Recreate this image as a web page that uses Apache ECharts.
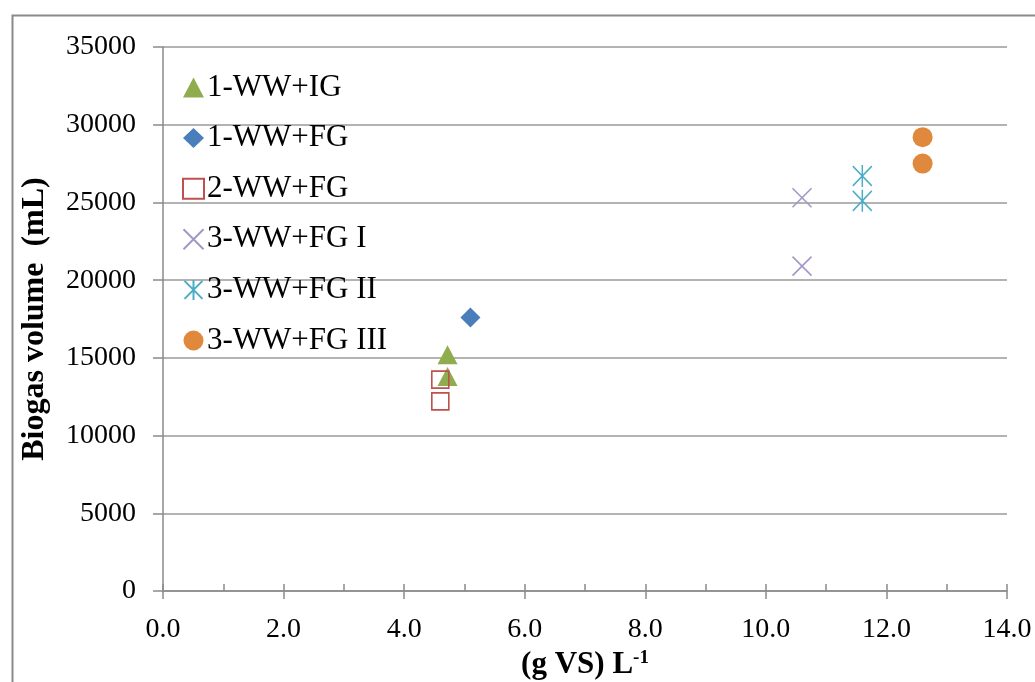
<!DOCTYPE html>
<html>
<head>
<meta charset="utf-8">
<script src="https://cdn.jsdelivr.net/npm/echarts@6/dist/echarts.min.js"></script>
<style>html,body{margin:0;padding:0;background:#fff}#c{width:1035px;height:682px}</style>
</head>
<body>
<div id="c"></div>
<script>
var seriesNames = ['1-WW+IG', '1-WW+FG', '2-WW+FG', '3-WW+FG I', '3-WW+FG II', '3-WW+FG III'];
var ww1IG = [[4.72, 15200], [4.72, 13800]];
var ww1FG = [[5.1, 17600]];
var ww2FG = [[4.6, 13600], [4.6, 12200]];
var ww3FGI = [[10.6, 25300], [10.6, 20900]];
var ww3FGII = [[11.6, 26700], [11.6, 25100]];
var ww3FGIII = [[12.6, 29200], [12.6, 27500]];
var yTicks = [0, 5000, 10000, 15000, 20000, 25000, 30000, 35000];
var xTicks = [0, 2, 4, 6, 8, 10, 12, 14];

var serif = '"Liberation Serif", "DejaVu Serif", serif';
var chart = echarts.init(document.getElementById('c'), null, {renderer: 'canvas'});
var option = {
  animation: false,
  backgroundColor: '#fff',
  graphic: [{
    type: 'rect', left: 10, top: 13, silent: true,
    shape: {width: 1100, height: 720},
    style: {fill: 'none', stroke: '#8a8a8a', lineWidth: 2}
  }],
  grid: {left: 163, right: 28, top: 47, bottom: 91, containLabel: false, outerBoundsMode: 'none'},
  legend: {
    orient: 'vertical', left: 177, top: 67,
    itemWidth: 21, itemHeight: 20, itemGap: 19.6,
    textStyle: {fontFamily: serif, fontSize: 31, color: '#000', padding: [0, 0, 0, -2]},
    data: seriesNames
  },
  xAxis: [{
    type: 'value', position: 'bottom', min: xTicks[0], max: xTicks[xTicks.length - 1], interval: 2,
    name: '{b|(g VS) L}{s|-1}', nameLocation: 'middle', nameGap: 56,
    nameTextStyle: {rich: {
      b: {fontFamily: serif, fontSize: 31, fontWeight: 'bold', color: '#000'},
      s: {fontFamily: serif, fontSize: 19, fontWeight: 'bold', color: '#000', verticalAlign: 'top', padding: [0, 0, 14, 0]}
    }},
    axisLine: {show: true, lineStyle: {color: '#8a8a8a', width: 1.5}},
    axisTick: {show: true, inside: false, length: 8, lineStyle: {color: '#8a8a8a', width: 1.5}},
    axisLabel: {fontFamily: serif, fontSize: 28, color: '#000', margin: 25,
      formatter: function (v) { return v.toFixed(1); }},
    splitLine: {show: false}
  }, {
    type: 'value', position: 'bottom', min: xTicks[0], max: xTicks[xTicks.length - 1], interval: 1,
    axisLine: {show: false},
    axisTick: {show: true, inside: true, length: 7, lineStyle: {color: '#8a8a8a', width: 1.5}},
    axisLabel: {show: false},
    splitLine: {show: false}
  }],
  yAxis: {
    type: 'value', min: yTicks[0], max: yTicks[yTicks.length - 1], interval: 5000,
    name: 'Biogas volume  (mL)', nameLocation: 'middle', nameGap: 112,
    nameTextStyle: {fontFamily: serif, fontSize: 32, fontWeight: 'bold', color: '#000'},
    axisLine: {show: true, lineStyle: {color: '#8a8a8a', width: 1.5}},
    axisTick: {show: true, inside: false, length: 10, lineStyle: {color: '#8a8a8a', width: 1.5}},
    axisLabel: {fontFamily: serif, fontSize: 28, color: '#000', margin: 27,
      formatter: function (v) { return String(v); }},
    splitLine: {show: true, lineStyle: {color: '#9a9a9a', width: 1.5}}
  },
  series: [{
    name: seriesNames[0], type: 'scatter', data: ww1IG,
    symbol: 'triangle', symbolSize: [20, 19],
    itemStyle: {color: '#8FAD4E', opacity: 1}
  }, {
    name: seriesNames[1], type: 'scatter', data: ww1FG,
    symbol: 'diamond', symbolSize: [20, 20],
    itemStyle: {color: '#4A7EBB', opacity: 1}
  }, {
    name: seriesNames[2], type: 'scatter', data: ww2FG,
    symbol: 'rect', symbolSize: [17, 17],
    itemStyle: {color: 'rgba(255,255,255,0)', borderColor: '#C0504D', borderWidth: 1.6, opacity: 1}
  }, {
    name: seriesNames[3], type: 'scatter', data: ww3FGI,
    symbol: 'path://M0,0L20,20M20,0L0,20', symbolSize: [19, 19],
    itemStyle: {color: 'rgba(255,255,255,0)', borderColor: '#A497C6', borderWidth: 1.6, opacity: 1}
  }, {
    name: seriesNames[4], type: 'scatter', data: ww3FGII,
    symbol: 'path://M1,1L19,19M19,1L1,19M10,0L10,20', symbolSize: [19, 22],
    itemStyle: {color: 'rgba(255,255,255,0)', borderColor: '#4BACC6', borderWidth: 1.6, opacity: 1}
  }, {
    name: seriesNames[5], type: 'scatter', data: ww3FGIII,
    symbol: 'circle', symbolSize: 20,
    itemStyle: {color: '#E0883C', opacity: 1}
  }]
};
chart.setOption(option);
</script>
</body>
</html>
